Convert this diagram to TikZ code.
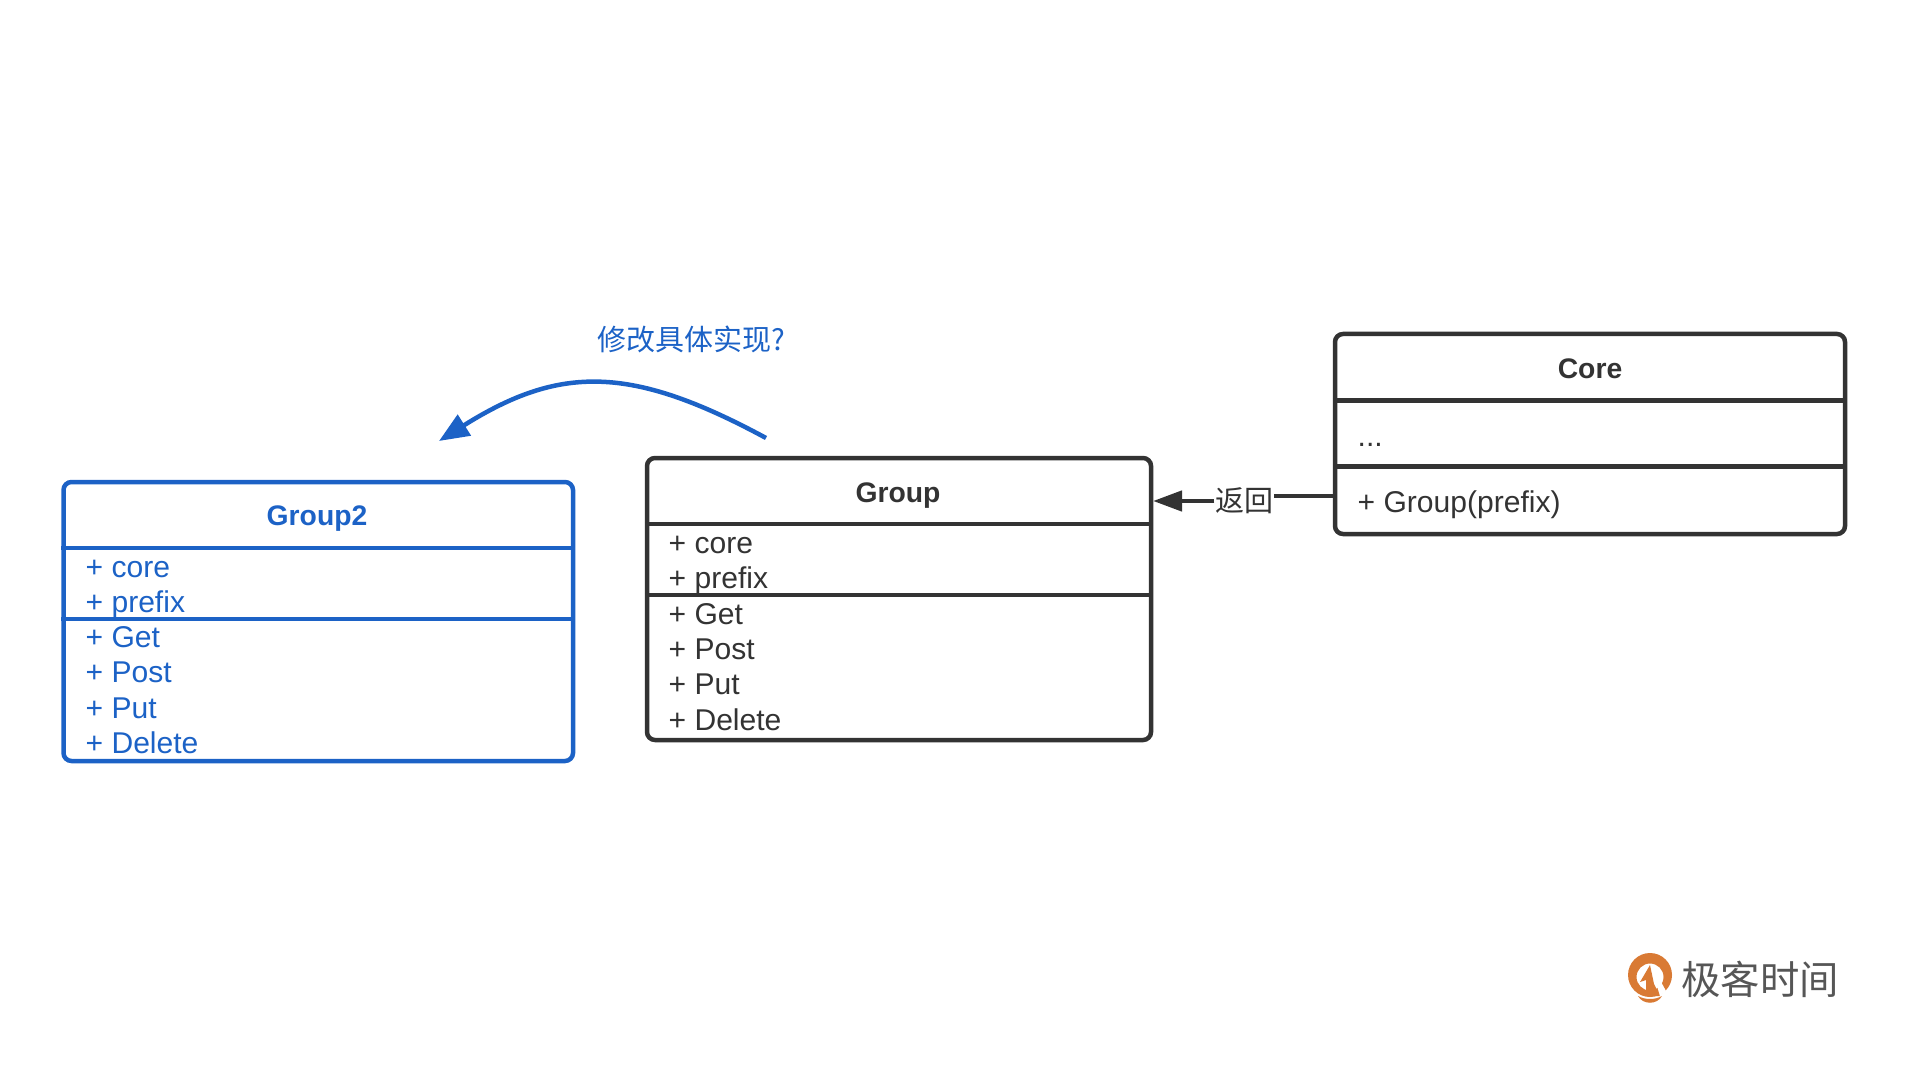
\documentclass[tikz,border=0pt]{standalone}
\usepackage{fontspec}
\setmainfont{Liberation Sans}
\newfontfamily\cjkfont{Noto Sans CJK SC}
\usetikzlibrary{arrows.meta}

\definecolor{classdark}{HTML}{333333}
\definecolor{classblue}{HTML}{1C62C6}
\definecolor{logoorange}{HTML}{D97A34}
\definecolor{logogray}{HTML}{565656}

\tikzset{
  classbox/.style={draw, rounded corners=0.08cm, line width=0.045cm, inner sep=0pt},
  classline/.style={line width=0.045cm},
  classtitle/.style={font=\fontsize{8.05}{10}\selectfont\bfseries},
  classrow/.style={anchor=base west, inner sep=0pt, font=\fontsize{8.55}{10}\selectfont},
  cjklabel/.style={inner sep=0pt, font=\fontsize{8.25}{10}\selectfont\cjkfont}
}

\begin{document}
\begin{tikzpicture}[x=1cm, y=-1cm]
  \useasboundingbox (0, 0) rectangle (19.2, 10.8);

  % Core
  \begin{scope}[classdark, text=classdark]
    \node[classbox, minimum width=5.10cm, minimum height=2.00cm] (core) at (15.90, 4.34) {};
    \draw[classline] (core.west |- 0, 4.005) -- (core.east |- 0, 4.005);
    \draw[classline] (core.west |- 0, 4.665) -- (core.east |- 0, 4.665);
    \node[classtitle] (coretitle) at (15.90, 3.685) {Core};
    \node[classrow] (coredots) at (13.57, 4.47) {...};
    \node[classrow] (corefunc) at (13.57, 5.12) {+ Group(prefix)};
  \end{scope}

  % Group
  \begin{scope}[classdark, text=classdark]
    \node[classbox, minimum width=5.04cm, minimum height=2.82cm] (group) at (8.99, 5.99) {};
    \draw[classline] (group.west |- 0, 5.24) -- (group.east |- 0, 5.24);
    \draw[classline] (group.west |- 0, 5.95) -- (group.east |- 0, 5.95);
    \node[classtitle] (grouptitle) at (8.98, 4.955) {Group};
    \foreach \name [count=\i from 0] in {core, prefix, Get, Post, Put, Delete} {
      \node[classrow] (grouprow\i) at (6.68, 5.535 + 0.353*\i) {+ \name};
    }
  \end{scope}

  % Group2
  \begin{scope}[classblue, text=classblue]
    \node[classbox, minimum width=5.095cm, minimum height=2.79cm] (grouptwo) at (3.1825, 6.215) {};
    \draw[classline] (grouptwo.west |- 0, 5.48) -- (grouptwo.east |- 0, 5.48);
    \draw[classline] (grouptwo.west |- 0, 6.19) -- (grouptwo.east |- 0, 6.19);
    \node[classtitle] (grouptwotitle) at (3.17, 5.19) {Group2};
    \foreach \name [count=\i from 0] in {core, prefix, Get, Post, Put, Delete} {
      \node[classrow] (grouptworow\i) at (0.85, 5.77 + 0.353*\i) {+ \name};
    }
  \end{scope}

  % return arrow
  \node[cjklabel, text=classdark] (backlabel) at (12.44, 5.01) {返回};
  \coordinate (backstart) at (13.35, 4.96);
  \coordinate (backend) at (11.53, 5.01);
  \draw[classdark, classline] (backstart) -- (backlabel.east |- backstart);
  \draw[classdark, classline, -{Triangle[length=0.29cm, width=0.20cm]}]
    (backlabel.west |- backend) -- (backend);

  % blue curve
  \node[cjklabel, text=classblue] (changelabel) at (6.91, 3.39) {修改具体实现?};
  \coordinate (curvestart) at (7.66, 4.38);
  \coordinate (curveend) at (4.39, 4.41);
  \draw[classblue, classline, -{Triangle[length=0.30cm, width=0.24cm]}]
    (curvestart) .. controls (6.31, 3.65) and (5.60, 3.65) .. (curveend);

  % logo
  \fill[logoorange, even odd rule] (16.50, 9.75) circle (0.22) (16.50, 9.77) circle (0.135);
  \fill[logoorange] (16.50, 9.65) -- (16.40, 9.82) -- (16.46, 9.80) -- (16.46, 9.96)
    -- (16.60, 9.96) -- (16.54, 9.84) -- cycle;
  \fill[white] (16.56, 9.83) -- (16.60, 9.80) -- (16.66, 9.91) -- (16.60, 9.96) -- cycle;
  \fill[logoorange] (16.38, 9.96) .. controls (16.45, 10.00) and (16.55, 10.00) .. (16.62, 9.96)
    .. controls (16.57, 10.05) and (16.43, 10.05) .. (16.38, 9.96) -- cycle;
  \node[inner sep=0pt, text=logogray, font=\fontsize{11.2}{13}\selectfont\cjkfont] (logotext) at (17.60, 9.795) {极客时间};
\end{tikzpicture}
\end{document}
